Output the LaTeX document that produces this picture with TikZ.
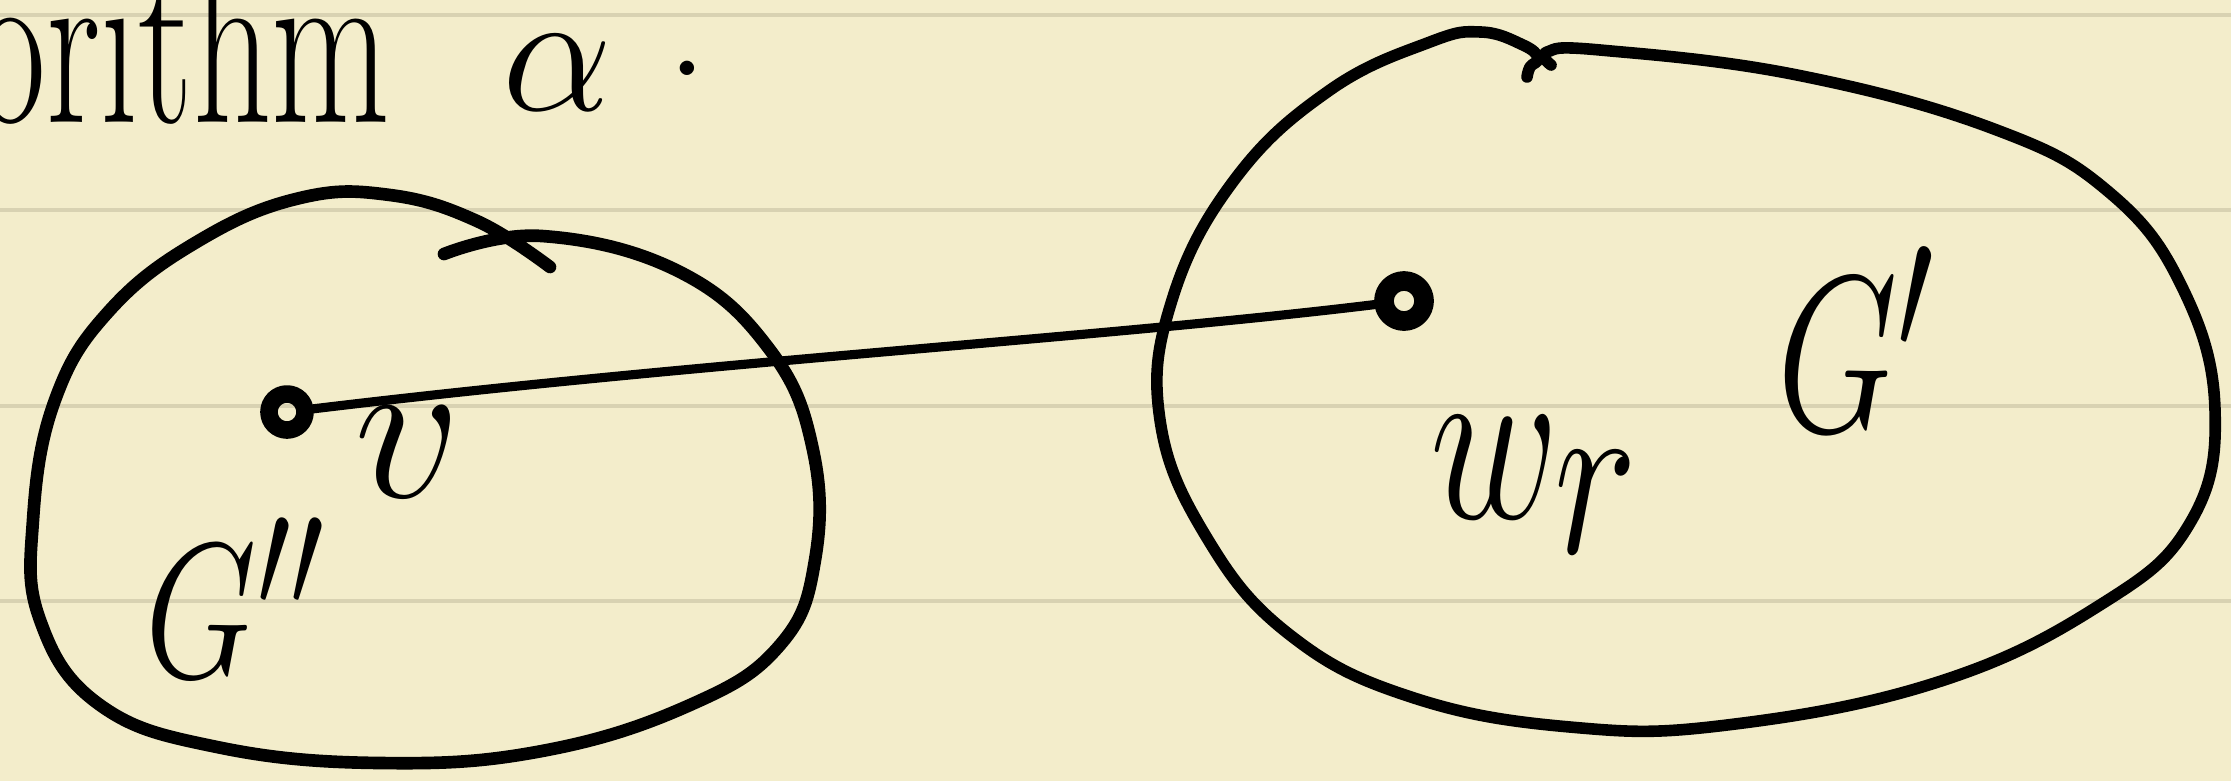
\documentclass[tikz,border=0pt]{standalone}
\usepackage{amsmath}
\usetikzlibrary{positioning}
\definecolor{paper}{HTML}{F3EDCB}
\definecolor{ruling}{HTML}{D8D2B2}

\begin{document}
\begin{tikzpicture}[x=0.01cm, y=-0.01cm, line cap=round, line join=round,
    blob/.style={line width=3.6pt},
    vert/.style={circle, draw, line width=5pt, minimum size=0.36cm, inner sep=0pt},
    hand/.style={font=\Huge}]
    % paper and ruled lines
    \fill[paper] (0,0) rectangle (2231,781);
    \useasboundingbox (0,0) rectangle (2231,781);
    \foreach \y in {15,210,406,601} \draw[ruling, line width=1.3pt] (0,\y) -- (2231,\y);
    % heading, cut at the left edge
    \node[hand, anchor=base east, scale=2.7, xscale=0.65] (alg) at (412,122) {algorithm};
    \node[hand, anchor=base west, scale=2.0] (alpha) at (478,110) {$\alpha$\hspace{0.3em}\raisebox{0.2em}{.}};
    % left blob G''
    \draw[blob] plot[smooth, tension=0.7] coordinates {(444,254) (542,236) (678,271)
        (770,350) (813,450) (815,560) (780,645) (690,705) (542,751) (380,763) (217,747)
        (100,705) (40,620) (33,520) (55,400) (110,310) (200,240) (300,198) (390,195)
        (477,221) (550,267)};
    % right blob G'
    \draw[blob, line width=3.3pt] plot[smooth, tension=0.7] coordinates {(1551,65) (1547,52)
        (1600,50) (1797,75) (1994,129) (2110,193) (2183,289) (2215,410) (2190,523)
        (2100,605) (1938,682) (1727,725) (1570,727) (1411,697) (1290,635) (1207,538)
        (1160,420) (1172,300) (1235,179) (1330,90) (1430,42) (1481,32) (1523,45)
        (1538,58) (1530,67) (1527,77)};
    % vertices and edge
    \node[vert] (v) at (287,412) {};
    \node[vert, minimum size=0.4cm, line width=5.6pt] (w) at (1404,301) {};
    \draw[line width=2.6pt] (v) .. controls (700,362) and (1100,338) .. (w);
    % labels
    \node[hand, anchor=base west, scale=2.4] (vlab) at (325,497) {$v$};
    \node[hand, anchor=base west, scale=2.2, xscale=0.75] (Gpp) at (125,677) {$G''$};
    \node[hand, anchor=base west, scale=2.7, xscale=0.75] (wr) at (1405,518) {$w_{\textstyle r}$};
    \node[hand, anchor=base west, scale=2.55, xscale=0.7] (Gp) at (1755,431) {$G'$};
\end{tikzpicture}
\end{document}
